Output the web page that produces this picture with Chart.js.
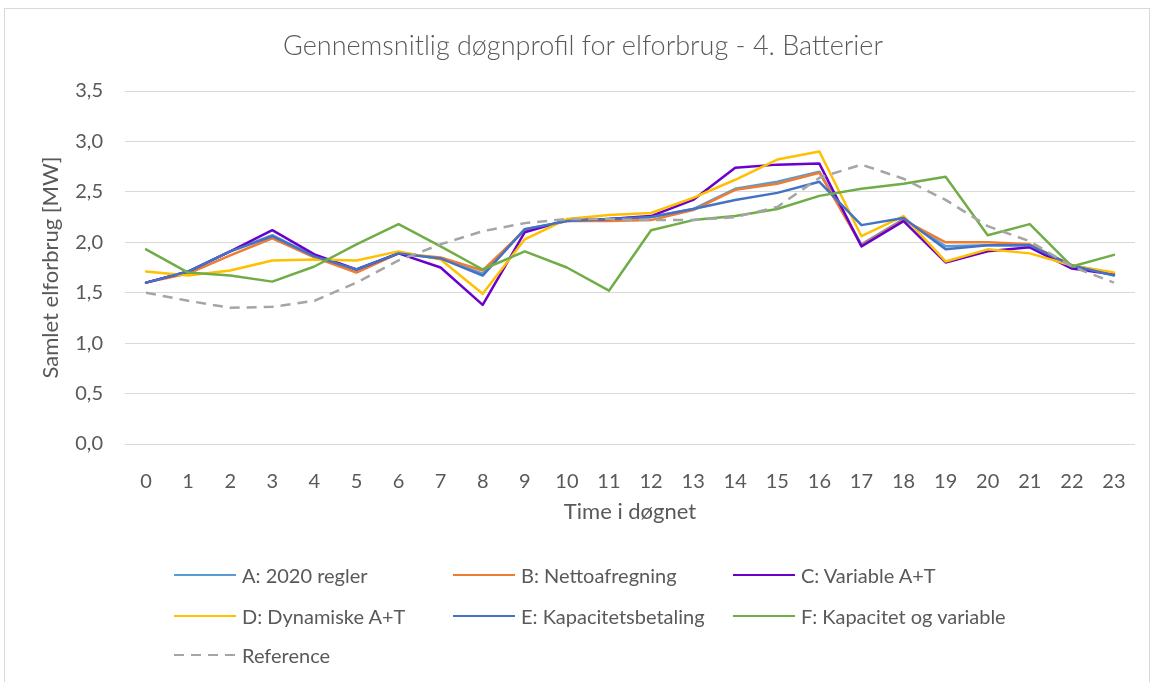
<!DOCTYPE html>
<html>
<head>
<meta charset="utf-8">
<script src="https://cdn.jsdelivr.net/npm/chart.js@4"></script>
<style>
  body { margin: 0; background: #fff; font-family: Lato, "Open Sans", sans-serif; color: #595959; }
  #wrap { position: relative; width: 1154px; height: 682px; overflow: hidden; }
  #frame { position: absolute; left: 4px; top: 8px; width: 1144px; height: 700px; border: 1px solid #d9d9d9; }
  #chart { position: absolute; left: 0; top: 0; }
  #title { position: absolute; left: 0; top: 29px; width: 1166px; text-align: center;
           font-size: 27px; font-weight: 300; line-height: 32px; white-space: nowrap; }
  .item { position: absolute; display: flex; align-items: center; font-size: 20px; line-height: 24px; white-space: nowrap; }
  .swatch { width: 62px; height: 2.5px; margin-right: 6px; }
</style>
</head>
<body>
<div id="wrap">
  <div id="frame"></div>
  <canvas id="chart" width="1154" height="682"></canvas>
  <div id="title">Gennemsnitlig døgnprofil for elforbrug - 4. Batterier</div>
  <div id="legend"></div>
</div>
<script>
const hours = ["0", "1", "2", "3", "4", "5", "6", "7", "8", "9", "10", "11",
  "12", "13", "14", "15", "16", "17", "18", "19", "20", "21", "22", "23"];

const a2020 = [1.60, 1.71, 1.91, 2.07, 1.86, 1.73, 1.89, 1.84, 1.69, 2.13, 2.21, 2.23,
  2.25, 2.33, 2.53, 2.60, 2.70, 1.98, 2.23, 1.96, 1.97, 1.97, 1.77, 1.68];
const bNetto = [1.60, 1.69, 1.87, 2.04, 1.85, 1.70, 1.89, 1.85, 1.72, 2.12, 2.21, 2.21,
  2.22, 2.32, 2.52, 2.58, 2.69, 1.97, 2.22, 2.00, 2.00, 1.98, 1.77, 1.69];
const cVariable = [1.60, 1.71, 1.91, 2.12, 1.88, 1.73, 1.89, 1.75, 1.38, 2.10, 2.22, 2.23,
  2.26, 2.42, 2.74, 2.77, 2.78, 1.96, 2.21, 1.80, 1.91, 1.95, 1.74, 1.68];
const dDynamisk = [1.71, 1.67, 1.72, 1.82, 1.83, 1.82, 1.91, 1.83, 1.49, 2.03, 2.23, 2.27,
  2.29, 2.44, 2.62, 2.82, 2.90, 2.06, 2.26, 1.81, 1.93, 1.89, 1.77, 1.70];
const eKapacitet = [1.60, 1.71, 1.91, 2.06, 1.86, 1.73, 1.89, 1.84, 1.67, 2.13, 2.21, 2.23,
  2.25, 2.33, 2.42, 2.49, 2.60, 2.17, 2.24, 1.93, 1.97, 1.97, 1.77, 1.67];
const fKapVar = [1.93, 1.70, 1.67, 1.61, 1.76, 1.98, 2.18, 1.96, 1.73, 1.91, 1.75, 1.52,
  2.12, 2.22, 2.26, 2.33, 2.46, 2.53, 2.58, 2.65, 2.07, 2.18, 1.76, 1.875];
const reference = [1.50, 1.42, 1.35, 1.36, 1.42, 1.60, 1.82, 1.98, 2.11, 2.19, 2.23, 2.23,
  2.22, 2.22, 2.25, 2.35, 2.64, 2.77, 2.63, 2.42, 2.16, 2.01, 1.76, 1.60];

const series = [
  { label: "A: 2020 regler", data: a2020, color: "#5B9BD5" },
  { label: "B: Nettoafregning", data: bNetto, color: "#ED7D31" },
  { label: "C: Variable A+T", data: cVariable, color: "#6A00CC" },
  { label: "D: Dynamiske A+T", data: dDynamisk, color: "#FFC000" },
  { label: "E: Kapacitetsbetaling", data: eKapacitet, color: "#4472C4" },
  { label: "F: Kapacitet og variable", data: fKapVar, color: "#70AD47" },
  { label: "Reference", data: reference, color: "#A5A5A5", dash: true }
];

const textColor = "#595959";
const font = "Lato, 'Open Sans', sans-serif";

new Chart(document.getElementById("chart"), {
  type: "line",
  data: {
    labels: hours,
    datasets: series.map((s, i) => ({
      label: s.label,
      data: s.data,
      borderColor: s.color,
      backgroundColor: s.color,
      borderWidth: 2.5,
      borderDash: s.dash ? [10, 7] : [],
      borderCapStyle: s.dash ? "butt" : "round",
      borderJoinStyle: "round",
      pointRadius: 0,
      tension: 0,
      order: series.length - i
    }))
  },
  options: {
    responsive: false,
    animation: false,
    layout: { padding: { left: 10, right: 19, top: 91, bottom: 156 } },
    plugins: {
      legend: { display: false },
      tooltip: { enabled: false },
      title: { display: false }
    },
    scales: {
      x: {
        offset: true,
        grid: { display: false },
        border: { display: false },
        ticks: { color: textColor, font: { family: font, size: 20 }, padding: 18, maxRotation: 0, autoSkip: false },
        title: {
          display: true,
          text: "Time i døgnet",
          color: textColor,
          font: { family: font, size: 22 },
          padding: { top: 0, bottom: 1 }
        },
        afterFit: scale => { scale.height = 82; }
      },
      y: {
        min: 0,
        max: 3.5,
        border: { display: false },
        grid: { color: "#d9d9d9", lineWidth: 1, drawTicks: false },
        ticks: {
          stepSize: 0.5,
          color: textColor,
          font: { family: font, size: 20 },
          padding: 22,
          callback: v => v.toFixed(1).replace(".", ",")
        },
        title: {
          display: true,
          text: "Samlet elforbrug [MW]",
          color: textColor,
          font: { family: font, size: 22 },
          padding: { top: 28, bottom: 0 }
        },
        afterFit: scale => { scale.width = 115; }
      }
    }
  }
});

// legend, 3 columns like the Excel one
const legend = document.getElementById("legend");
const colX = [174, 453, 733];
const rowY = [575, 616, 655];
series.forEach((s, i) => {
  const item = document.createElement("div");
  item.className = "item";
  item.style.left = colX[i % 3] + "px";
  item.style.top = (rowY[Math.floor(i / 3)] - 12) + "px";
  const sw = document.createElement("div");
  sw.className = "swatch";
  sw.style.background = s.dash
    ? `repeating-linear-gradient(to right, ${s.color} 0 10px, transparent 10px 17px)`
    : s.color;
  const txt = document.createElement("span");
  txt.textContent = s.label;
  item.appendChild(sw);
  item.appendChild(txt);
  legend.appendChild(item);
});
</script>
</body>
</html>
